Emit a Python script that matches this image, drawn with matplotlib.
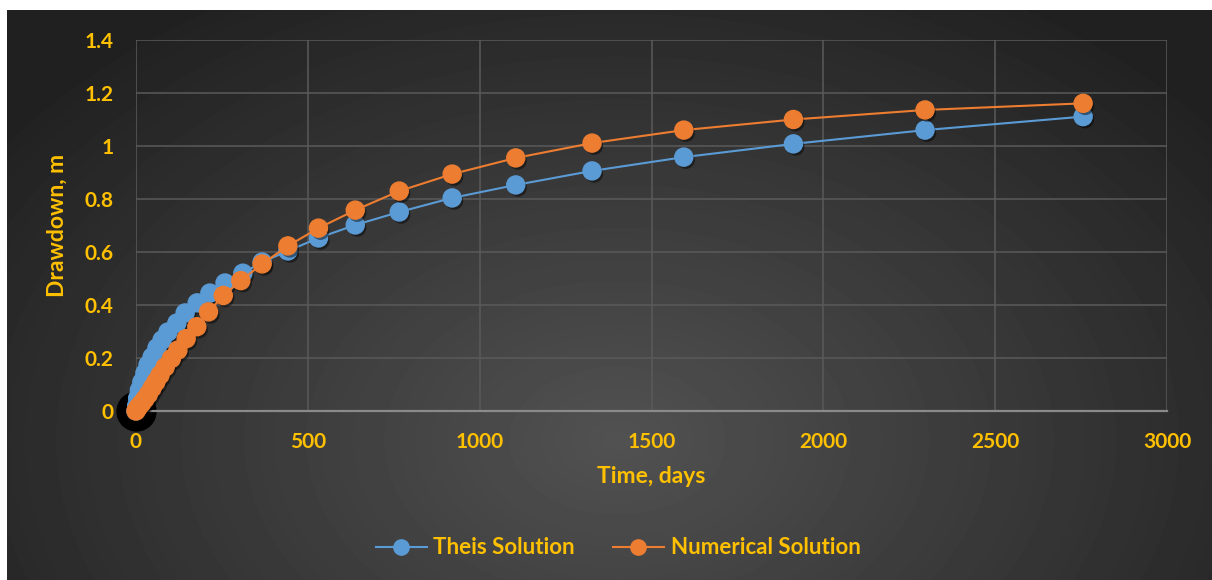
import numpy as np
import matplotlib
matplotlib.use("Agg")
import matplotlib.pyplot as plt
import matplotlib.patheffects as pe
from matplotlib.lines import Line2D

# Theis analytical drawdown vs time
theis_t = [0, 2, 5, 10, 17, 26, 35, 47, 61, 76, 93, 119, 143, 178, 215, 259, 311,
           367, 442, 531, 638, 766, 920, 1105, 1327, 1594, 1913, 2296, 2756]
theis_s = [0.0, 0.020, 0.049, 0.079, 0.109, 0.143, 0.174, 0.204, 0.238, 0.268, 0.298,
           0.332, 0.370, 0.408, 0.445, 0.483, 0.520, 0.562, 0.604, 0.653, 0.702,
           0.751, 0.804, 0.853, 0.906, 0.958, 1.008, 1.060, 1.111]

# model (numerical) drawdown vs time
num_t = [0, 4, 9, 17, 26, 36, 47, 58, 70, 85, 103, 122, 146, 177, 211, 254, 305,
         367, 442, 531, 638, 766, 920, 1105, 1327, 1594, 1913, 2296, 2756]
num_s = [0.0, 0.009, 0.018, 0.030, 0.045, 0.063, 0.087, 0.110, 0.136, 0.166, 0.198,
         0.230, 0.273, 0.318, 0.374, 0.436, 0.492, 0.555, 0.623, 0.690, 0.758,
         0.830, 0.894, 0.955, 1.011, 1.060, 1.100, 1.136, 1.161]

origin = (0, 0)

xticks = [0, 500, 1000, 1500, 2000, 2500, 3000]
yticks = [0, 0.2, 0.4, 0.6, 0.8, 1.0, 1.2, 1.4]
ytick_labels = ["0", "0.2", "0.4", "0.6", "0.8", "1", "1.2", "1.4"]

gold = "#FFC000"
blue = "#5B9BD5"
orange = "#ED7D31"

plt.rcParams["font.family"] = ["Lato", "DejaVu Sans"]
plt.rcParams["font.weight"] = "bold"

W, H = 1212, 580
fig = plt.figure(figsize=(W / 100, H / 100), dpi=100, facecolor="white")

# dark radial background panel
bg = fig.add_axes([7 / W, 0, 1 - 7 / W, 1 - 10 / H])
bg.set_axis_off()
yy, xx = np.mgrid[0:570, 0:1205]
d = np.sqrt(((xx - 610) / 760.0) ** 2 + ((yy - 430) / 520.0) ** 2)
shade = np.clip(0.32 - 0.19 * d, 0.13, 0.32)
bg.imshow(shade, cmap="gray", vmin=0, vmax=1, aspect="auto",
          extent=[0, 1, 0, 1], origin="upper", interpolation="bilinear")
bg.set_xlim(0, 1)
bg.set_ylim(0, 1)

ax = fig.add_axes([136 / W, 1 - 411 / H, (1167 - 136) / W, (411 - 40) / H])
ax.set_facecolor("none")
ax.set_xlim(0, 3000)
ax.set_ylim(0, 1.4)
ax.set_xticks(xticks)
ax.set_yticks(yticks)
ax.set_yticklabels(ytick_labels)
ax.grid(True, color="#5a5a5a", linewidth=1.1)
ax.set_axisbelow(True)
for side in ["top", "right", "left"]:
    ax.spines[side].set_visible(False)
ax.spines["bottom"].set_color("#8a8a8a")
ax.spines["bottom"].set_linewidth(1.6)
ax.tick_params(length=0, colors=gold, labelsize=15)
ax.tick_params(axis="x", pad=15)
ax.tick_params(axis="y", pad=16)
for lbl in ax.get_xticklabels() + ax.get_yticklabels():
    lbl.set_fontweight("bold")

shadow = [pe.SimplePatchShadow(offset=(1.5, -2), shadow_rgbFace="black", alpha=0.45),
          pe.Normal()]

ax.plot(*origin, "o", color="black", markersize=28, zorder=2, clip_on=False)

# connecting lines, then markers with a soft drop shadow on top
ax.plot(theis_t, theis_s, "-", color=blue, linewidth=1.5, zorder=3, clip_on=False)
ax.plot(theis_t, theis_s, "o", color=blue, markersize=13, zorder=3,
        clip_on=False, path_effects=shadow)
ax.plot(num_t, num_s, "-", color=orange, linewidth=1.5, zorder=4, clip_on=False)
ax.plot(num_t, num_s, "o", color=orange, markersize=13, zorder=4,
        clip_on=False, path_effects=shadow)

ax.set_xlabel("Time, days", color=gold, fontsize=16.5, fontweight="bold", labelpad=10)
ax.set_ylabel("Drawdown, m", color=gold, fontsize=16.5, fontweight="bold", labelpad=12)

handles = [Line2D([], [], color=blue, linewidth=1.5, marker="o", markersize=11),
           Line2D([], [], color=orange, linewidth=1.5, marker="o", markersize=11)]
leg = fig.legend(handles, ["Theis Solution", "Numerical Solution"], loc="center",
                 bbox_to_anchor=(618 / W, 1 - 548 / H), ncol=2, frameon=False,
                 fontsize=16, handlelength=2.3, handletextpad=0.3,
                 columnspacing=1.7)
for t in leg.get_texts():
    t.set_color(gold)
    t.set_fontweight("bold")

fig.savefig("out.png", dpi=100, facecolor="white")
